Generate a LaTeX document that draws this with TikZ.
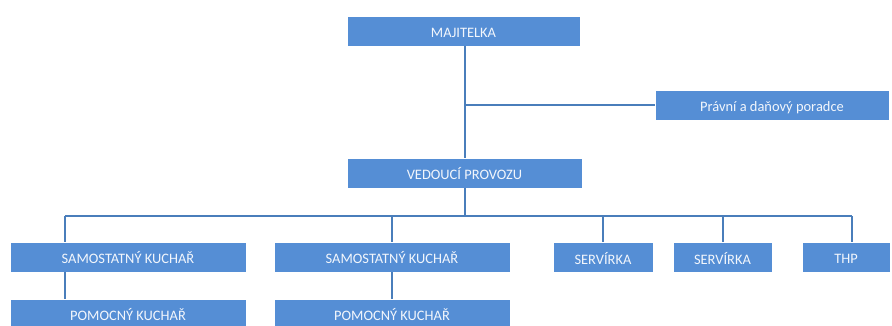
\documentclass[tikz,border=0pt]{standalone}
\usepackage{fontspec}
\setmainfont{Carlito}
\definecolor{boxfill}{HTML}{558ED5}
\definecolor{linecol}{HTML}{4A7EBB}
\definecolor{txt}{HTML}{F2F6FC}
\begin{document}
\begin{tikzpicture}[x=1bp,y=-1bp,
  orgbox/.style={rectangle,fill=boxfill,draw=white,line width=0.6bp,text=txt,inner sep=0pt,
    minimum height=30bp,text height=13bp,text depth=0bp,font=\fontsize{14.5}{16}\selectfont},
  conn/.style={draw=linecol,line width=2bp}]
\clip (0,0) rectangle (892,325);
\fill[white] (0,0) rectangle (892,325);
\node[orgbox,minimum width=233bp] (maj) at (463.5,31) {MAJITELKA};
\node[orgbox,minimum width=234bp] (prav) at (772,105) {Právní a daňový poradce};
\node[orgbox,minimum width=235bp] (ved) at (464.5,173) {VEDOUCÍ PROVOZU};
\node[orgbox,minimum width=236bp] (s1) at (128,257) {SAMOSTATNÝ KUCHAŘ};
\node[orgbox,minimum width=236bp] (s2) at (392,257) {SAMOSTATNÝ KUCHAŘ};
\node[orgbox,minimum width=100bp] (sv1) at (603,257.5) {SERVÍRKA};
\node[orgbox,minimum width=99bp] (sv2) at (722.5,257.5) {SERVÍRKA};
\node[orgbox,minimum width=88bp] (thp) at (846,257) {THP};
\node[orgbox,minimum width=236bp] (p1) at (128,314) {POMOCNÝ KUCHAŘ};
\node[orgbox,minimum width=236bp] (p2) at (392,314) {POMOCNÝ KUCHAŘ};
\coordinate (br) at (464.5,105);
\coordinate (bus) at (464.5,216);
\coordinate (d1) at (65,216);
\coordinate (d2) at (392,216);
\coordinate (d3) at (603,216);
\coordinate (d4) at (722.5,216);
\coordinate (d5) at (852,216);
\draw[conn] (maj.south -| br) -- (ved.north -| br);
\draw[conn] (br) -- (prav.west);
\draw[conn] (ved.south -| bus) -- (bus);
\draw[conn] (d1) -- (d5);
\draw[conn] (d1) -- (d1 |- s1.north);
\draw[conn] (d2) -- (s2.north);
\draw[conn] (d3) -- (sv1.north);
\draw[conn] (d4) -- (sv2.north);
\draw[conn] (d5) -- (d5 |- thp.north);
\draw[conn] (s1.south -| d1) -- (p1.north -| d1);
\draw[conn] (s2.south) -- (p2.north);
\end{tikzpicture}
\end{document}
